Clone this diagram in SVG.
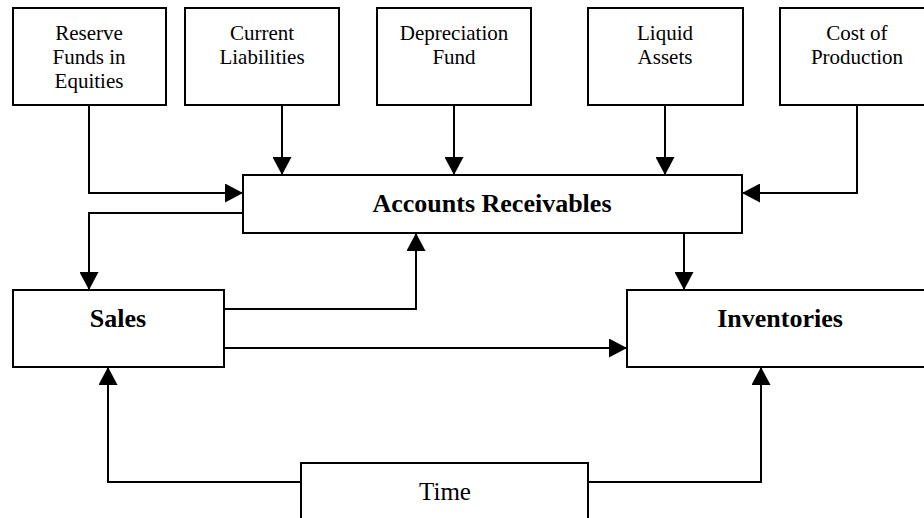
<svg xmlns="http://www.w3.org/2000/svg" width="924" height="518" viewBox="0 0 924 518">
<style>
.box{fill:#fff;stroke:#000;stroke-width:2}
.t{font-family:"Liberation Serif","Times New Roman",serif;font-size:21px;text-anchor:middle;fill:#000}
.b{font-family:"Liberation Serif","Times New Roman",serif;font-size:26px;font-weight:bold;text-anchor:middle;fill:#000}
.c{fill:none;stroke:#000;stroke-width:2;marker-end:url(#ah)}
.l{fill:none;stroke:#000;stroke-width:2}
</style>
<defs>
<marker id="ah" viewBox="0 0 18 19" refX="18" refY="9.5" markerWidth="18" markerHeight="19" markerUnits="userSpaceOnUse" orient="auto">
<path d="M0,0 L18,9.5 L0,19 Z" fill="#000"/>
</marker>
</defs>
<g id="connectors">
<path class="c" d="M89,105 V193 H243"/>
<path class="c" d="M282,105 V175"/>
<path class="c" d="M454,105 V175"/>
<path class="c" d="M665,105 V175"/>
<path class="c" d="M857,105 V193 H742"/>
<path class="c" d="M243,213 H89 V290"/>
<path class="c" d="M224,309 H416 V233"/>
<path class="c" d="M224,348 H627"/>
<path class="c" d="M684,233 V290"/>
<path class="c" d="M301,482 H108 V367"/>
<path class="c" d="M588,482 H761 V367"/>
</g>
<g id="reserve">
<rect class="box" x="13" y="8" width="153" height="97"/>
<text class="t" x="89" y="40">Reserve</text>
<text class="t" x="89" y="64">Funds in</text>
<text class="t" x="89" y="88">Equities</text>
</g>
<g id="current">
<rect class="box" x="185" y="8" width="154" height="97"/>
<text class="t" x="262" y="40">Current</text>
<text class="t" x="262" y="64">Liabilities</text>
</g>
<g id="depreciation">
<rect class="box" x="377" y="8" width="154" height="97"/>
<text class="t" x="454" y="40">Depreciation</text>
<text class="t" x="454" y="64">Fund</text>
</g>
<g id="liquid">
<rect class="box" x="588" y="8" width="155" height="97"/>
<text class="t" x="665" y="40">Liquid</text>
<text class="t" x="665" y="64">Assets</text>
</g>
<g id="cost">
<rect class="box" x="780" y="8" width="154" height="97"/>
<text class="t" x="857" y="40">Cost of</text>
<text class="t" x="857" y="64">Production</text>
</g>
<g id="accounts">
<rect class="box" x="243" y="175" width="499" height="58"/>
<text class="b" x="492" y="212">Accounts Receivables</text>
</g>
<g id="sales">
<rect class="box" x="13" y="290" width="211" height="77"/>
<text class="b" x="118" y="327">Sales</text>
</g>
<g id="inventories">
<rect class="box" x="627" y="290" width="306" height="77"/>
<text class="b" x="780" y="327">Inventories</text>
</g>
<g id="time">
<rect class="box" x="301" y="463" width="287" height="70"/>
<text class="t" x="445" y="500" style="font-size:25px">Time</text>
</g>
</svg>
